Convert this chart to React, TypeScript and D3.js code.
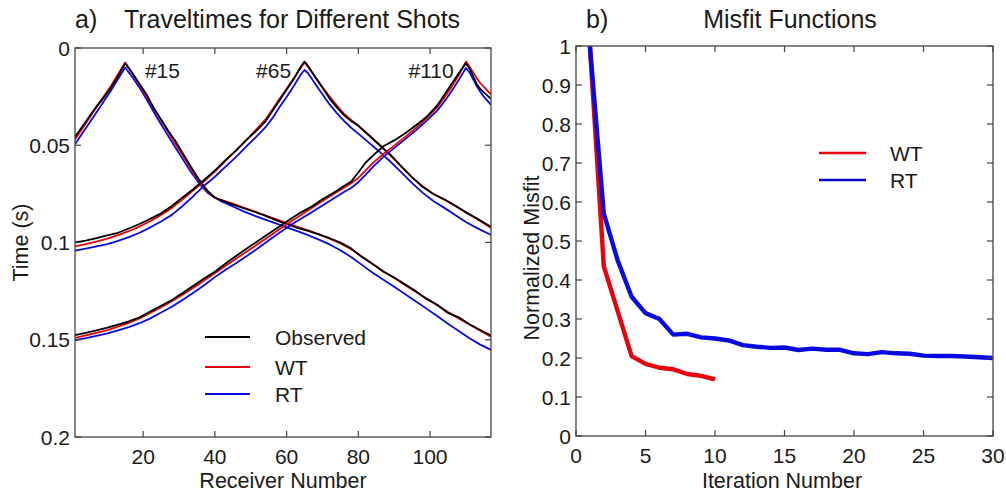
import React from 'react';
import * as d3 from 'd3';

// ---------- Panel a) traveltimes ----------
const shot15Receivers = [1,3,5,7,9,11,13,15,17,19,21,23,25,27,29,31,33,35,36,38,40,42,45,48,51,54,57,60,63,66,69,72,75,78,81,84,87,90,93,96,99,102,105,108,111,114,117];
const shot15Observed = [0.0456,0.0405,0.0352,0.0300,0.0255,0.0205,0.0145,0.0079,0.0130,0.0185,0.0240,0.0310,0.0368,0.0425,0.0478,0.0540,0.0600,0.0660,0.0687,0.0735,0.0770,0.0785,0.0805,0.0824,0.0842,0.0862,0.0885,0.0905,0.0925,0.0940,0.0958,0.0978,0.1000,0.1030,0.1075,0.1110,0.1150,0.1180,0.1215,0.1250,0.1290,0.1320,0.1362,0.1385,0.1420,0.1450,0.1478];
const shot15WT = [0.0470,0.0415,0.0360,0.0305,0.0250,0.0195,0.0135,0.0074,0.0130,0.0190,0.0250,0.0312,0.0372,0.0432,0.0492,0.0552,0.0612,0.0668,0.0692,0.0740,0.0770,0.0782,0.0800,0.0820,0.0840,0.0860,0.0880,0.0900,0.0920,0.0938,0.0958,0.0980,0.1005,0.1035,0.1072,0.1110,0.1148,0.1183,0.1218,0.1253,0.1288,0.1322,0.1357,0.1390,0.1422,0.1453,0.1484];
const shot15RT = [0.0495,0.0440,0.0385,0.0330,0.0275,0.0220,0.0160,0.0101,0.0150,0.0205,0.0265,0.0330,0.0392,0.0452,0.0512,0.0570,0.0628,0.0680,0.0705,0.0745,0.0768,0.0790,0.0815,0.0840,0.0862,0.0882,0.0902,0.0922,0.0942,0.0962,0.0985,0.1010,0.1040,0.1075,0.1115,0.1155,0.1192,0.1228,0.1265,0.1302,0.1340,0.1378,0.1418,0.1455,0.1492,0.1525,0.1552];

const shot65Receivers = [1,4,7,10,13,16,19,22,25,28,31,34,37,40,43,46,49,52,54,56,58,60,62,64,65,66,68,70,72,74,76,78,80,83,86,89,92,95,98,101,104,107,110,113,117];
const shot65Observed = [0.1000,0.0990,0.0978,0.0963,0.0950,0.0928,0.0905,0.0878,0.0850,0.0812,0.0768,0.0725,0.0678,0.0630,0.0575,0.0525,0.0470,0.0418,0.0380,0.0325,0.0270,0.0215,0.0160,0.0095,0.0070,0.0092,0.0150,0.0205,0.0260,0.0305,0.0345,0.0375,0.0400,0.0450,0.0500,0.0550,0.0608,0.0665,0.0715,0.0752,0.0778,0.0810,0.0845,0.0875,0.0919];
const shot65WT = [0.1020,0.1008,0.0995,0.0980,0.0962,0.0942,0.0918,0.0890,0.0858,0.0822,0.0778,0.0732,0.0685,0.0635,0.0580,0.0525,0.0468,0.0410,0.0370,0.0318,0.0262,0.0210,0.0155,0.0100,0.0075,0.0098,0.0148,0.0200,0.0250,0.0295,0.0338,0.0370,0.0398,0.0448,0.0500,0.0553,0.0610,0.0665,0.0712,0.0750,0.0780,0.0812,0.0845,0.0878,0.0925];
const shot65RT = [0.1042,0.1032,0.1020,0.1008,0.0992,0.0972,0.0950,0.0922,0.0892,0.0858,0.0812,0.0762,0.0708,0.0662,0.0610,0.0558,0.0502,0.0448,0.0410,0.0362,0.0305,0.0252,0.0195,0.0135,0.0113,0.0130,0.0185,0.0238,0.0290,0.0335,0.0375,0.0410,0.0440,0.0488,0.0535,0.0585,0.0640,0.0695,0.0745,0.0788,0.0822,0.0858,0.0895,0.0925,0.0961];

const shot110Receivers = [1,4,7,10,13,16,19,22,25,28,31,34,37,40,43,46,49,52,55,58,61,64,67,70,73,76,78,80,82,84,87,90,93,96,99,102,104,106,108,110,111,112,113,114,115,117];
const shot110Observed = [0.1476,0.1465,0.1452,0.1438,0.1422,0.1405,0.1385,0.1355,0.1325,0.1296,0.1260,0.1222,0.1185,0.1150,0.1108,0.1068,0.1030,0.0992,0.0955,0.0918,0.0880,0.0845,0.0815,0.0778,0.0745,0.0710,0.0687,0.0640,0.0590,0.0555,0.0505,0.0475,0.0440,0.0398,0.0355,0.0295,0.0240,0.0185,0.0130,0.0079,0.0105,0.0145,0.0185,0.0210,0.0228,0.0262];
const shot110WT = [0.1490,0.1478,0.1465,0.1450,0.1433,0.1413,0.1390,0.1362,0.1333,0.1302,0.1268,0.1232,0.1195,0.1158,0.1120,0.1082,0.1045,0.1008,0.0970,0.0932,0.0895,0.0858,0.0822,0.0787,0.0752,0.0718,0.0695,0.0668,0.0630,0.0592,0.0545,0.0502,0.0458,0.0412,0.0362,0.0305,0.0255,0.0200,0.0140,0.0070,0.0095,0.0125,0.0155,0.0180,0.0200,0.0240];
const shot110RT = [0.1502,0.1492,0.1480,0.1467,0.1452,0.1435,0.1415,0.1390,0.1360,0.1330,0.1295,0.1258,0.1220,0.1178,0.1140,0.1105,0.1068,0.1030,0.0990,0.0950,0.0912,0.0878,0.0845,0.0810,0.0775,0.0740,0.0720,0.0690,0.0652,0.0612,0.0560,0.0515,0.0470,0.0425,0.0375,0.0322,0.0275,0.0222,0.0165,0.0103,0.0125,0.0160,0.0195,0.0225,0.0250,0.0293];

const shotLabels = ['#15', '#65', '#110'];
const shotLabelReceivers = [20.5, 51.5, 94];
const receiverTicks = [20, 40, 60, 80, 100];
const timeTicks = [0, 0.05, 0.1, 0.15, 0.2];
const timeTickLabels = ['0', '0.05', '0.1', '0.15', '0.2'];
const legendA = ['Observed', 'WT', 'RT'];

// ---------- Panel b) misfit ----------
const iterationsWT = [1,2,3,4,5,6,7,8,9,10];
const misfitWT = [1.0,0.435,0.32,0.205,0.185,0.175,0.171,0.159,0.154,0.145];
const iterationsRT = [1,2,3,4,5,6,7,8,9,10,11,12,13,14,15,16,17,18,19,20,21,22,23,24,25,26,27,28,29,30];
const misfitRT = [1.0,0.57,0.45,0.357,0.315,0.30,0.26,0.262,0.253,0.250,0.245,0.233,0.229,0.226,0.227,0.2205,0.224,0.221,0.221,0.212,0.210,0.215,0.212,0.211,0.206,0.205,0.205,0.204,0.202,0.200];
const iterationTicks = [0, 5, 10, 15, 20, 25, 30];
const misfitTicks = [0, 0.1, 0.2, 0.3, 0.4, 0.5, 0.6, 0.7, 0.8, 0.9, 1];
const legendB = ['WT', 'RT'];

const FONT = "'Liberation Sans', Arial, Helvetica, sans-serif";
const TXT = '#1a1a1a';
const FRAME = '#444';
const BLACK = '#000000';
const RED = '#e8000b';
const BLUE = '#0a0ae0';

function zip(xs: number[], ys: number[]): [number, number][] {
  return xs.map((x, i) => [x, ys[i]] as [number, number]);
}

export default function App() {
  const xL = d3.scaleLinear().domain([1, 117]).range([75, 491]);
  const yL = d3.scaleLinear().domain([0, 0.2]).range([48, 437]);
  const xR = d3.scaleLinear().domain([0, 30]).range([576, 993]);
  const yR = d3.scaleLinear().domain([0, 1]).range([436, 46]);

  const lineL = d3.line<[number, number]>().x(d => xL(d[0])).y(d => yL(d[1]));
  const lineR = d3.line<[number, number]>().x(d => xR(d[0])).y(d => yR(d[1]));

  const shots = [
    { r: shot15Receivers, o: shot15Observed, w: shot15WT, b: shot15RT },
    { r: shot65Receivers, o: shot65Observed, w: shot65WT, b: shot65RT },
    { r: shot110Receivers, o: shot110Observed, w: shot110WT, b: shot110RT },
  ];

  const [lx0, lx1] = xL.range();
  const [ly0, ly1] = yL.range();
  const [rx0, rx1] = xR.range();
  const [ry1, ry0] = yR.range();
  const tl = 6;

  return (
    <svg width={1006} height={498} style={{ position: 'absolute', left: 0, top: 0, background: '#fff' }}
      fontFamily={FONT}>
      <rect x={0} y={0} width={1006} height={498} fill="#fff" />
      <defs>
        <clipPath id="clipL"><rect x={lx0} y={ly0} width={lx1 - lx0} height={ly1 - ly0} /></clipPath>
        <clipPath id="clipR"><rect x={rx0} y={ry0} width={rx1 - rx0} height={ry1 - ry0} /></clipPath>
      </defs>

      {/* ===== Panel a ===== */}
      <text x={75} y={28} fontSize={25} fill={TXT}>a)</text>
      <text x={292} y={28} fontSize={25} fill={TXT} textAnchor="middle">Traveltimes for Different Shots</text>

      <g clipPath="url(#clipL)">
        {shots.map((s, i) => (
          <g key={i} fill="none" strokeWidth={1.8} strokeLinejoin="round">
            <path d={lineL(zip(s.r, s.b)) || ''} stroke={BLUE} />
            <path d={lineL(zip(s.r, s.w)) || ''} stroke={RED} />
            <path d={lineL(zip(s.r, s.o)) || ''} stroke={BLACK} />
          </g>
        ))}
      </g>

      {shotLabels.map((t, i) => (
        <text key={t} x={xL(shotLabelReceivers[i])} y={78} fontSize={21} fill={TXT}>{t}</text>
      ))}

      <rect x={lx0} y={ly0} width={lx1 - lx0} height={ly1 - ly0} fill="none" stroke={FRAME} strokeWidth={1.3} />
      {receiverTicks.map(t => (
        <g key={t}>
          <line x1={xL(t)} x2={xL(t)} y1={ly1} y2={ly1 - tl} stroke={FRAME} strokeWidth={1.2} />
          <line x1={xL(t)} x2={xL(t)} y1={ly0} y2={ly0 + tl} stroke={FRAME} strokeWidth={1.2} />
          <text x={xL(t)} y={ly1 + 27} fontSize={21} fill={TXT} textAnchor="middle">{t}</text>
        </g>
      ))}
      {timeTicks.map((t, i) => (
        <g key={t}>
          <line x1={lx0} x2={lx0 + tl} y1={yL(t)} y2={yL(t)} stroke={FRAME} strokeWidth={1.2} />
          <line x1={lx1} x2={lx1 - tl} y1={yL(t)} y2={yL(t)} stroke={FRAME} strokeWidth={1.2} />
          <text x={lx0 - 5} y={yL(t)} dy="0.36em" fontSize={21} fill={TXT} textAnchor="end">{timeTickLabels[i]}</text>
        </g>
      ))}
      <text x={283} y={488} fontSize={21.5} fill={TXT} textAnchor="middle">Receiver Number</text>
      <text transform={`translate(28,${(ly0 + ly1) / 2}) rotate(-90)`} fontSize={21.5} fill={TXT} textAnchor="middle">Time (s)</text>

      {legendA.map((t, i) => {
        const y = [337, 367, 394][i];
        const c = [BLACK, RED, BLUE][i];
        return (
          <g key={t}>
            <line x1={205} x2={250} y1={y} y2={y} stroke={c} strokeWidth={2} />
            <text x={275} y={y} dy="0.36em" fontSize={21} fill={TXT}>{t}</text>
          </g>
        );
      })}

      {/* ===== Panel b ===== */}
      <text x={586} y={28} fontSize={25} fill={TXT}>b)</text>
      <text x={790} y={28} fontSize={25} fill={TXT} textAnchor="middle">Misfit Functions</text>

      <g clipPath="url(#clipR)" fill="none" strokeWidth={4.4} strokeLinejoin="round">
        <path d={lineR(zip(iterationsWT, misfitWT)) || ''} stroke={RED} />
        <path d={lineR(zip(iterationsRT, misfitRT)) || ''} stroke={BLUE} />
      </g>

      <rect x={rx0} y={ry0} width={rx1 - rx0} height={ry1 - ry0} fill="none" stroke={FRAME} strokeWidth={1.3} />
      {iterationTicks.map(t => (
        <g key={t}>
          <line x1={xR(t)} x2={xR(t)} y1={ry1} y2={ry1 - tl} stroke={FRAME} strokeWidth={1.2} />
          <line x1={xR(t)} x2={xR(t)} y1={ry0} y2={ry0 + tl} stroke={FRAME} strokeWidth={1.2} />
          <text x={xR(t)} y={ry1 + 27} fontSize={21} fill={TXT} textAnchor="middle">{t}</text>
        </g>
      ))}
      {misfitTicks.map(t => (
        <g key={t}>
          <line x1={rx0} x2={rx0 + tl} y1={yR(t)} y2={yR(t)} stroke={FRAME} strokeWidth={1.2} />
          <line x1={rx1} x2={rx1 - tl} y1={yR(t)} y2={yR(t)} stroke={FRAME} strokeWidth={1.2} />
          <text x={rx0 - 5} y={yR(t)} dy="0.36em" fontSize={21} fill={TXT} textAnchor="end">{String(Math.round(t * 10) / 10)}</text>
        </g>
      ))}
      <text x={782} y={488} fontSize={21.5} fill={TXT} textAnchor="middle">Iteration Number</text>
      <text transform={`translate(539,258) rotate(-90)`} fontSize={21.5} fill={TXT} textAnchor="middle">Normalized Misfit</text>

      {legendB.map((t, i) => {
        const y = [153, 180][i];
        const c = [RED, BLUE][i];
        return (
          <g key={t}>
            <line x1={819} x2={866} y1={y} y2={y} stroke={c} strokeWidth={2.6} />
            <text x={890} y={y} dy="0.36em" fontSize={21} fill={TXT}>{t}</text>
          </g>
        );
      })}
    </svg>
  );
}
